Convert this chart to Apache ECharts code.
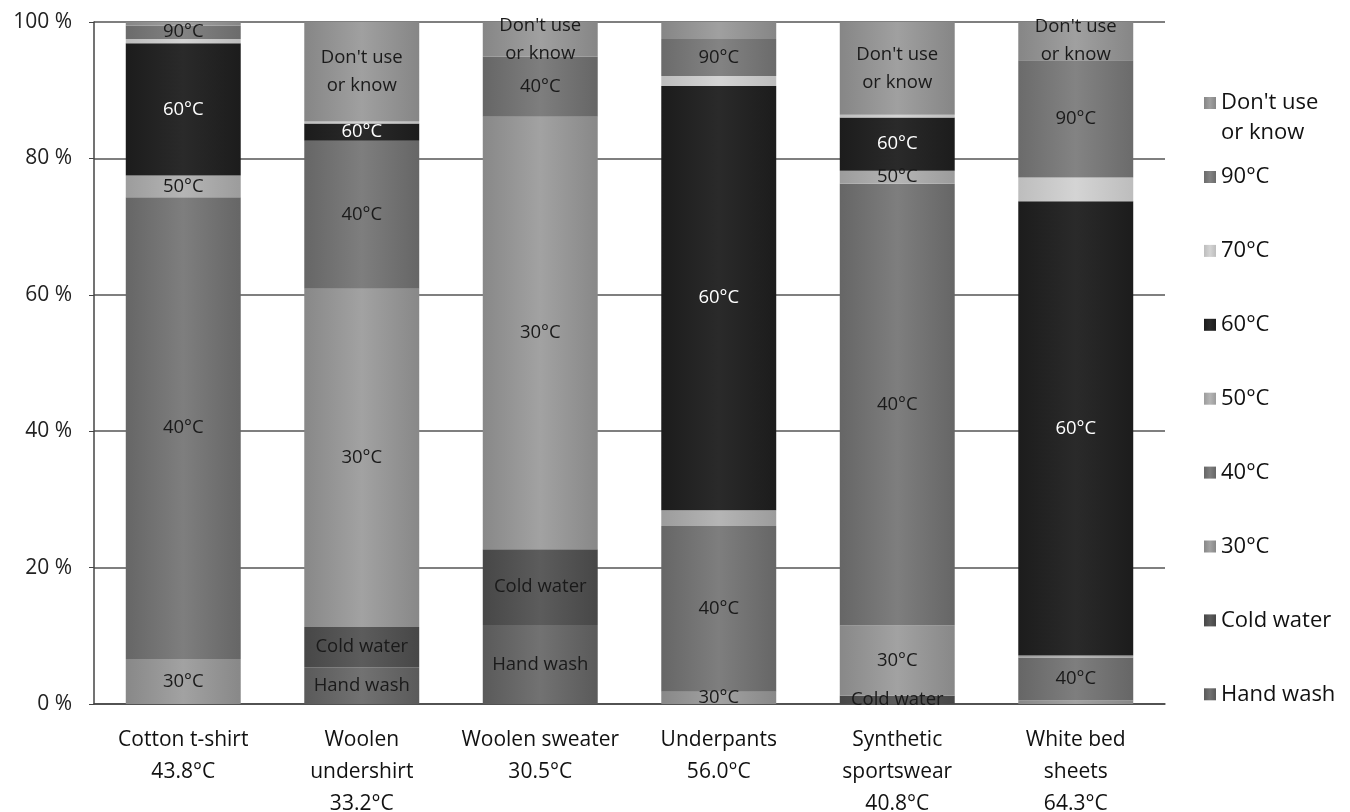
<!DOCTYPE html>
<html>
<head>
<meta charset="utf-8">
<script src="https://cdn.jsdelivr.net/npm/echarts@6/dist/echarts.min.js"></script>
<style>
  html, body { margin: 0; padding: 0; background: #fff; }
  #chart { width: 1350px; height: 812px; }
</style>
</head>
<body>
<div id="chart"></div>
<script>
// Garments and their average washing temperature
const garments = ['Cotton t-shirt', 'Woolen\nundershirt', 'Woolen sweater', 'Underpants', 'Synthetic\nsportswear', 'White bed\nsheets'];
const meanTemps = [43.8, 33.2, 30.5, 56.0, 40.8, 64.3];

// Share of respondents (%) per washing choice, stacked bottom to top
const handWash  = [0, 5.4, 11.6, 0, 0, 0];
const coldWater = [0, 5.9, 11.1, 0, 1.2, 0];
const temp30    = [6.6, 49.6, 63.4, 1.8, 10.3, 0.5];
const temp40    = [67.7, 21.7, 8.8, 24.3, 64.8, 6.3];
const temp50    = [3.2, 0, 0, 2.3, 1.9, 0.3];
const temp60    = [19.4, 2.5, 0, 62.2, 7.8, 66.6];
const temp70    = [0.6, 0.3, 0, 1.5, 0.4, 3.5];
const temp90    = [2.0, 0, 0, 5.4, 0, 17.2];
const dontKnow  = [0.5, 14.6, 5.1, 2.5, 13.6, 5.6];

const yTicks = [0, 20, 40, 60, 80, 100];

const FONT = '"Open Sans", "Noto Sans", sans-serif';

// Series definitions: name, values, fill shade, which bars carry a label
const stackDefs = [
  { name: 'Hand wash',         data: handWash,  base: '#727272', edge: '#5a5a5a', labelled: [1, 2] },
  { name: 'Cold water',        data: coldWater, base: '#5c5c5c', edge: '#474747', labelled: [1, 2, 4] },
  { name: '30°C',              data: temp30,    base: '#a2a2a2', edge: '#888888', labelled: [0, 1, 2, 3, 4] },
  { name: '40°C',              data: temp40,    base: '#7e7e7e', edge: '#666666', labelled: [0, 1, 2, 3, 4, 5] },
  { name: '50°C',              data: temp50,    base: '#b5b5b5', edge: '#9c9c9c', labelled: [0, 4] },
  { name: '60°C',              data: temp60,    base: '#2a2a2a', edge: '#1c1c1c', labelled: [0, 1, 3, 4, 5], light: true },
  { name: '70°C',              data: temp70,    base: '#d4d4d4', edge: '#bdbdbd', labelled: [] },
  { name: '90°C',              data: temp90,    base: '#838383', edge: '#6b6b6b', labelled: [0, 3, 5] },
  { name: "Don't use or know", data: dontKnow,  base: '#a0a0a0', edge: '#868686', labelled: [1, 2, 4, 5] }
];

function shade(def) {
  return {
    type: 'linear', x: 0, y: 0, x2: 1, y2: 0,
    colorStops: [
      { offset: 0, color: def.edge },
      { offset: 0.5, color: def.base },
      { offset: 1, color: def.edge }
    ]
  };
}

const series = stackDefs.map(def => ({
  name: def.name,
  type: 'bar',
  stack: 'total',
  barWidth: '64.4%',
  itemStyle: { color: shade(def) },
  label: {
    position: 'inside',
    fontFamily: FONT,
    fontSize: 18.5,
    lineHeight: 28,
    color: def.light ? '#ffffff' : '#1a1a1a',
    formatter: () => def.name === "Don't use or know" ? "Don't use\nor know" : def.name
  },
  data: def.data.map((v, i) => ({ value: v, label: { show: def.labelled.indexOf(i) >= 0 } }))
}));

const categories = garments.map((g, i) => g + '\n' + meanTemps[i].toFixed(1) + '°C');

const legendNames = stackDefs.map(d => d.name).reverse();

const legendText = { fontFamily: FONT, fontSize: 22, color: '#111', lineHeight: 30 };

const chart = echarts.init(document.getElementById('chart'), null, { renderer: 'canvas' });
chart.setOption({
  backgroundColor: '#ffffff',
  animation: false,
  grid: { left: 94, right: 185, top: 22, bottom: 108, containLabel: false, outerBoundsMode: 'none' },
  legend: [
    {
      // first entry wraps over two lines; a blank leading line keeps the swatch on the first one
      orient: 'vertical',
      left: 1199,
      top: 53,
      icon: 'rect',
      itemWidth: 12,
      itemHeight: 12,
      data: legendNames.slice(0, 1),
      formatter: () => " \nDon't use\nor know",
      textStyle: legendText
    },
    {
      orient: 'vertical',
      left: 1199,
      top: 157,
      icon: 'rect',
      itemWidth: 12,
      itemHeight: 12,
      itemGap: 43.9,
      data: legendNames.slice(1),
      textStyle: legendText
    }
  ],
  xAxis: {
    type: 'category',
    data: categories,
    axisLine: { show: true, lineStyle: { color: '#444', width: 1.5 } },
    axisTick: { show: false },
    axisLabel: {
      interval: 0,
      margin: 20,
      fontFamily: FONT,
      fontSize: 21,
      lineHeight: 32,
      color: '#111'
    }
  },
  yAxis: {
    type: 'value',
    min: yTicks[0],
    max: yTicks[yTicks.length - 1],
    interval: yTicks[1] - yTicks[0],
    axisLine: { show: true, lineStyle: { color: '#444', width: 1.5 } },
    axisTick: { show: true, length: 5, lineStyle: { color: '#444' } },
    splitLine: { show: true, lineStyle: { color: '#555', width: 1.5 } },
    axisLabel: {
      margin: 22,
      fontFamily: FONT,
      fontSize: 21,
      color: '#222',
      formatter: '{value} %'
    }
  },
  series: series
});
</script>
</body>
</html>
